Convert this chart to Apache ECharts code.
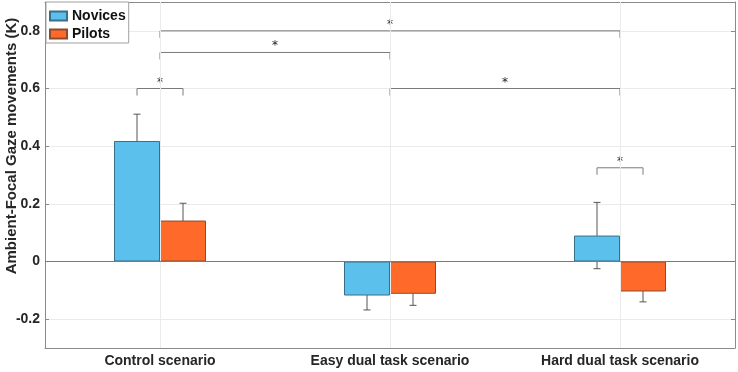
<!DOCTYPE html>
<html>
<head>
<meta charset="utf-8">
<script src="https://cdn.jsdelivr.net/npm/echarts@6/dist/echarts.min.js"></script>
<style>html,body{margin:0;padding:0;background:#fff;}#chart{width:738px;height:372px;}</style>
</head>
<body>
<div id="chart"></div>
<script>
// ---- data ----
const categories = ['Control scenario', 'Easy dual task scenario', 'Hard dual task scenario'];
const novices = [0.418, -0.118, 0.090];
const pilots = [0.142, -0.112, -0.104];
const novicesErr = [0.093, 0.050, 0.115];
const pilotsErr = [0.060, 0.040, 0.036];
const yTicks = [-0.2, 0, 0.2, 0.4, 0.6, 0.8];
// significance brackets: from category/side, to category/side, level
const bracketFromCat = [0, 0, 0, 1, 2];
const bracketFromSide = [-1, 0, 0, 0, -1];
const bracketToCat = [0, 1, 2, 2, 2];
const bracketToSide = [1, 0, 0, 0, 1];
const bracketLevel = [0.6, 0.725, 0.8, 0.6, 0.325];
const bracketLabel = ['*', '*', '*', '*', '*'];

const FONT = 'Liberation Sans, Arial, sans-serif';
const TXT = '#262626';
const BAR_FRAC = 0.2; // bar width as fraction of category band

const errData = [];
novices.forEach((v, i) => errData.push([i, v, novicesErr[i], -1]));
pilots.forEach((v, i) => errData.push([i, v, pilotsErr[i], 1]));

const brData = bracketLevel.map((lv, i) => [bracketFromCat[i], lv, bracketToCat[i], bracketFromSide[i], bracketToSide[i], i]);

const chart = echarts.init(document.getElementById('chart'));
chart.setOption({
  animation: false,
  backgroundColor: '#fff',
  textStyle: { fontFamily: FONT },
  grid: { left: 45, right: 3, top: 2, bottom: 24, containLabel: false },
  legend: {
    orient: 'vertical', left: 46, top: 2,
    data: ['Novices', 'Pilots'],
    icon: 'rect', itemWidth: 17, itemHeight: 9, itemGap: 4,
    padding: [7, 3, 2, 3],
    borderColor: '#a0a0a0', borderWidth: 1, backgroundColor: '#fff',
    textStyle: { fontFamily: FONT, fontWeight: 'bold', fontSize: 14, color: '#111', lineHeight: 14 },
  },
  xAxis: [{
    type: 'category', data: categories, position: 'bottom',
    axisLine: { show: true, onZero: false, lineStyle: { color: '#8a8a8a' } },
    axisTick: { show: true, inside: true, alignWithLabel: true, length: 4, lineStyle: { color: '#8a8a8a' } },
    axisLabel: { fontFamily: FONT, fontWeight: 'bold', fontSize: 14, color: TXT, margin: 6 },
    splitLine: { show: false },
  }, {
    type: 'category', data: categories, position: 'top',
    axisLine: { show: true, onZero: false, lineStyle: { color: '#8a8a8a' } },
    axisTick: { show: true, inside: true, alignWithLabel: true, length: 4, lineStyle: { color: '#8a8a8a' } },
    axisLabel: { show: false },
    splitLine: { show: false },
  }],
  yAxis: [{
    type: 'value', min: -0.3, max: 0.9, position: 'left',
    axisLine: { show: true, lineStyle: { color: '#8a8a8a' } },
    axisTick: { show: true, inside: true, length: 4, customValues: yTicks, lineStyle: { color: '#8a8a8a' } },
    axisLabel: {
      customValues: yTicks, fontFamily: FONT, fontWeight: 'bold', fontSize: 14, color: TXT, margin: 5,
      formatter: v => (Math.abs(v) < 1e-9 ? '0' : v.toFixed(1))
    },
    splitLine: { show: true, lineStyle: { color: '#ebebeb', width: 1 } },
  }, {
    type: 'value', min: -0.3, max: 0.9, position: 'right',
    axisLine: { show: true, lineStyle: { color: '#8a8a8a' } },
    axisTick: { show: true, inside: true, length: 4, customValues: yTicks, lineStyle: { color: '#8a8a8a' } },
    axisLabel: { show: false },
    splitLine: { show: false },
  }],
  graphic: [{
    type: 'text', x: 12, y: 146, rotation: Math.PI / 2,
    style: { text: 'Ambient-Focal Gaze movements (K)', fontFamily: FONT, fontWeight: 'bold', fontSize: 15,
      fill: TXT, align: 'center', verticalAlign: 'middle' }
  }],
  series: [{
    name: 'gridV', type: 'custom', z: 0, silent: true,
    data: [], renderItem: () => null,
    markLine: {
      silent: true, symbol: ['none', 'none'], label: { show: false },
      lineStyle: { color: '#ebebeb', width: 1, type: 'solid' },
      data: categories.map(c => ({ xAxis: c }))
    }
  }, {
    name: 'err', type: 'custom', z: 1, silent: true,
    data: errData,
    encode: { x: 0, y: 1 },
    renderItem: (params, api) => {
      const cat = api.value(0), m = api.value(1), e = api.value(2), side = api.value(3);
      const band = api.size([1, 0])[0];
      const x = api.coord([cat, m])[0] + side * band * BAR_FRAC / 2;
      const yT = api.coord([cat, m + e])[1];
      const yB = api.coord([cat, m - e])[1];
      const cap = 3.5;
      const st = { stroke: '#555', lineWidth: 1 };
      return { type: 'group', children: [
        { type: 'line', shape: { x1: x, y1: yT, x2: x, y2: yB }, style: st },
        { type: 'line', shape: { x1: x - cap, y1: yT, x2: x + cap, y2: yT }, style: st },
        { type: 'line', shape: { x1: x - cap, y1: yB, x2: x + cap, y2: yB }, style: st },
      ]};
    }
  }, {
    name: 'Novices', type: 'bar', z: 2, data: novices,
    barWidth: (BAR_FRAC * 100) + '%', barGap: '0%',
    itemStyle: { color: '#5bc0eb', borderColor: '#3a6f88', borderWidth: 1 },
    markLine: {
      silent: true, symbol: ['none', 'none'], label: { show: false },
      lineStyle: { color: '#7a7a7a', width: 1, type: 'solid' },
      data: [{ yAxis: 0 }]
    }
  }, {
    name: 'Pilots', type: 'bar', z: 2, data: pilots,
    barWidth: (BAR_FRAC * 100) + '%', barGap: '0%',
    itemStyle: { color: '#ff6a2a', borderColor: '#8e4a2c', borderWidth: 1 },
  }, {
    name: 'brackets', type: 'custom', z: 3, silent: true,
    data: brData,
    encode: { x: 0, y: 1 },
    renderItem: (params, api) => {
      const fc = api.value(0), lv = api.value(1), tc = api.value(2), fs = api.value(3), ts = api.value(4);
      const band = api.size([1, 0])[0];
      const off = band * BAR_FRAC / 2;
      const p1 = api.coord([fc, lv]);
      const p2 = api.coord([tc, lv]);
      const x1 = p1[0] + fs * off, x2 = p2[0] + ts * off, y = p1[1];
      const leg = 7;
      const st = { stroke: '#7a7a7a', lineWidth: 1 };
      return { type: 'group', children: [
        { type: 'polyline', shape: { points: [[x1, y + leg], [x1, y], [x2, y], [x2, y + leg]] }, style: Object.assign({ fill: null }, st) },
        { type: 'text', x: Math.round((x1 + x2) / 2), y: Math.round(y - 6),
          style: { text: bracketLabel[params.dataIndex], fontFamily: 'DejaVu Sans, sans-serif', fontSize: 12, fill: '#222', align: 'center', verticalAlign: 'middle' } }
      ]};
    }
  }]
});
</script>
</body>
</html>
